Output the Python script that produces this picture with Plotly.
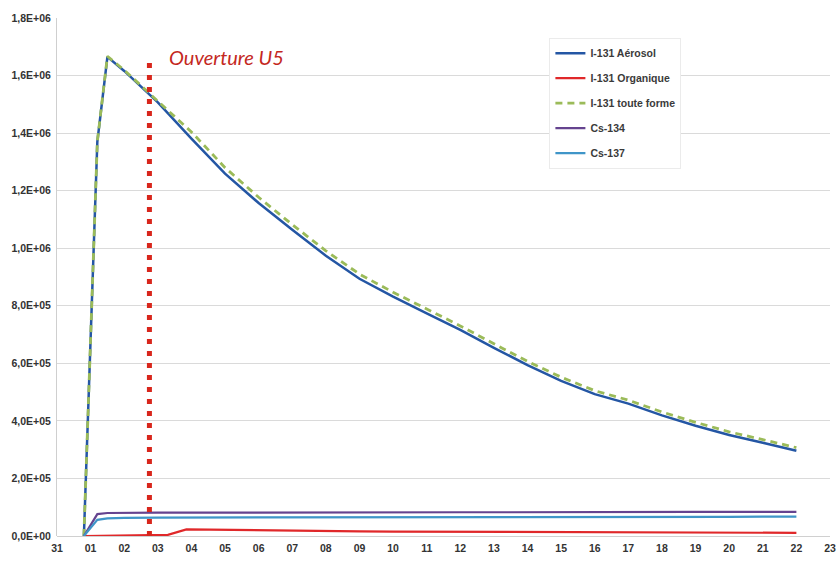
import plotly.graph_objects as go

# ---- data ----
jours = [0.8, 1.2, 1.5, 2, 3, 4, 5, 6, 7, 8, 9, 10, 11, 12, 13, 14, 15, 16, 17, 18, 19, 20, 21, 22]

i131_aerosol = [0, 1.37e6, 1.665e6, 1.616e6, 1.507e6, 1.381e6, 1.259e6, 1.157e6, 1.064e6, 0.974e6,
                0.894e6, 0.832e6, 0.774e6, 0.716e6, 0.654e6, 0.594e6, 0.539e6, 0.493e6, 0.460e6,
                0.419e6, 0.383e6, 0.351e6, 0.324e6, 0.296e6]

i131_toute_forme = [0, 1.371e6, 1.667e6, 1.619e6, 1.511e6, 1.404e6, 1.280e6, 1.177e6, 1.082e6, 0.991e6,
                    0.910e6, 0.847e6, 0.789e6, 0.730e6, 0.668e6, 0.607e6, 0.552e6, 0.505e6, 0.472e6,
                    0.431e6, 0.395e6, 0.362e6, 0.335e6, 0.307e6]

jours_org = [0.8, 2, 3, 3.3, 3.85, 5, 6, 7, 8, 9, 10, 11, 12, 13, 14, 15, 16, 17, 18, 19, 20, 21, 22]
i131_organique = [0, 2000, 3000, 4000, 23000, 21000, 19500, 18500, 17000, 16000, 15500, 15000, 14500,
                  14000, 13500, 13000, 12500, 12000, 12000, 11500, 11500, 11000, 11000]

cs134 = [0, 7.6e4, 8.0e4, 8.1e4, 8.1e4, 8.1e4, 8.15e4, 8.15e4, 8.2e4, 8.2e4, 8.2e4, 8.2e4, 8.25e4,
         8.25e4, 8.25e4, 8.3e4, 8.3e4, 8.3e4, 8.3e4, 8.35e4, 8.35e4, 8.35e4, 8.4e4, 8.4e4]

cs137 = [0, 5.6e4, 6.1e4, 6.3e4, 6.4e4, 6.4e4, 6.45e4, 6.45e4, 6.5e4, 6.5e4, 6.5e4, 6.5e4, 6.55e4,
         6.55e4, 6.55e4, 6.6e4, 6.6e4, 6.6e4, 6.6e4, 6.65e4, 6.65e4, 6.65e4, 6.7e4, 6.7e4]

ouverture_u5 = 2.75

x_tickvals = list(range(0, 24))
x_ticklabels = ["31", "01", "02", "03", "04", "05", "06", "07", "08", "09", "10", "11",
                "12", "13", "14", "15", "16", "17", "18", "19", "20", "21", "22", "23"]

y_tickvals = [0, 2e5, 4e5, 6e5, 8e5, 1e6, 1.2e6, 1.4e6, 1.6e6, 1.8e6]
y_ticklabels = ["0,0E+00", "2,0E+05", "4,0E+05", "6,0E+05", "8,0E+05",
                "1,0E+06", "1,2E+06", "1,4E+06", "1,6E+06", "1,8E+06"]

# ---- figure ----
fig = go.Figure()

tick_font = dict(family="Liberation Sans", size=10.5, color="#333333", weight="bold")

fig.add_trace(go.Scatter(x=jours, y=i131_aerosol, mode="lines", name="I-131 Aérosol",
                         legendgroup="a", line=dict(color="#2456a4", width=2.5)))
fig.add_trace(go.Scatter(x=jours_org, y=i131_organique, mode="lines", name="I-131 Organique",
                         legendgroup="b", line=dict(color="#e0282a", width=2.2)))
fig.add_trace(go.Scatter(x=jours, y=i131_toute_forme, mode="lines", name="I-131 toute forme",
                         legendgroup="c", line=dict(color="#9bbb59", width=2.8, dash="7px,5px")))
fig.add_trace(go.Scatter(x=jours, y=cs134, mode="lines", name="Cs-134",
                         legendgroup="d", line=dict(color="#65438f", width=2.2)))
fig.add_trace(go.Scatter(x=jours, y=cs137, mode="lines", name="Cs-137",
                         legendgroup="e", line=dict(color="#3f95c8", width=2.2)))

fig.add_shape(type="line", xref="x", yref="y", x0=ouverture_u5, x1=ouverture_u5,
              y0=0, y1=1.652e6, line=dict(color="#d8261c", width=5, dash="5px,7px"))

fig.add_annotation(x=3.28, y=1.665e6, xref="x", yref="y", text="Ouverture U5",
                   showarrow=False, xanchor="left", yanchor="middle",
                   font=dict(family="Lato", size=20, color="#c4281e", style="italic"))

fig.update_layout(
    width=837, height=562,
    margin=dict(l=57, r=7, t=18, b=26, autoexpand=False),
    paper_bgcolor="white", plot_bgcolor="white",
    showlegend=True,
    legend=dict(x=0.637, y=0.962, xanchor="left", yanchor="top",
                bgcolor="white", bordercolor="#ebebeb", borderwidth=1,
                tracegroupgap=6, itemwidth=30,
                font=dict(family="Liberation Sans", size=10.5, color="#3a3a3a", weight="bold")),
    xaxis=dict(range=[0, 23], tickmode="array", tickvals=x_tickvals, ticktext=x_ticklabels,
               showgrid=False, zeroline=False, showline=False, ticks="", tickfont=tick_font,
               ticklabelstandoff=4, fixedrange=True, automargin=False),
    yaxis=dict(range=[0, 1.8e6], tickmode="array", tickvals=y_tickvals, ticktext=y_ticklabels,
               showgrid=True, gridcolor="#dadada", gridwidth=1, zeroline=True,
               zerolinecolor="#d0d0d0", zerolinewidth=1,
               showline=True, linecolor="#cfcfcf", linewidth=1,
               ticks="", tickfont=tick_font, ticklabelstandoff=3,
               fixedrange=True, automargin=False),
)

# remove the browser's default page margin so the 837x562 figure fills the window exactly
fig.write_html("out.html",
               config={"displayModeBar": False},
               post_script="document.body.style.margin='0';document.body.style.overflow='hidden';")
